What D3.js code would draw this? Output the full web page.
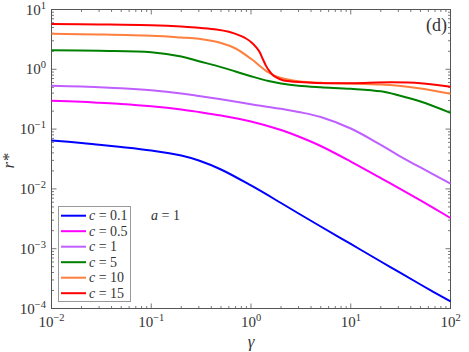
<!DOCTYPE html>
<html>
<head>
<meta charset="utf-8">
<script src="https://cdn.jsdelivr.net/npm/d3@7"></script>
<style>
  body { margin: 0; background: #fff; }
  svg text { font-family: "Liberation Serif", "DejaVu Serif", serif; fill: #333; }
</style>
</head>
<body>
<svg id="chart" width="469" height="352"></svg>
<script>
// gamma values and r* per curve
const gammaA = [0.01, 0.02, 0.03, 0.05, 0.1, 0.2, 0.3, 0.5, 1, 2, 3, 5, 10, 20, 30, 50, 100];
const rBlue =    [0.0645, 0.0586, 0.0546, 0.0502, 0.0439, 0.0362, 0.0298, 0.0211, 0.0114, 0.00581, 0.00388, 0.00235, 0.00120, 0.000611, 0.000412, 0.000252, 0.000131];
const rMagenta = [0.297, 0.286, 0.276, 0.263, 0.2405, 0.2127, 0.1932, 0.1688, 0.134, 0.0966, 0.0752, 0.0522, 0.0287, 0.0152, 0.0104, 0.0064, 0.00326];
const rPurple =  [0.530, 0.516, 0.502, 0.483, 0.445, 0.394, 0.358, 0.315, 0.260, 0.2185, 0.1932, 0.1594, 0.1023, 0.0545, 0.0365, 0.0228, 0.0123];

const gammaB = [0.01, 0.03, 0.1, 0.2, 0.3, 0.5, 0.7, 1, 1.5, 2, 3, 5, 10, 20, 30, 50, 100];
const rGreen =  [2.088, 2.039, 1.932, 1.637, 1.366, 1.088, 0.919, 0.767, 0.637, 0.579, 0.530, 0.500, 0.472, 0.428, 0.368, 0.289, 0.187];
const rOrange = [3.925, 3.82, 3.63, 3.40, 3.236, 2.754, 2.227, 1.498, 0.884, 0.715, 0.632, 0.595, 0.579, 0.557, 0.530, 0.477, 0.389];

const gammaC = [0.01, 0.03, 0.1, 0.2, 0.3, 0.45, 0.6, 0.8, 0.9, 1.0, 1.13, 1.22, 1.31, 1.42, 1.53, 1.65, 1.79, 2.08, 2.43, 3, 4.5, 10, 26, 50, 100];
const rRed =   [5.7, 5.62, 5.46, 5.2, 4.94, 4.65, 4.25, 3.58, 3.24, 2.86, 2.32, 1.94, 1.50, 1.13, 0.93, 0.80, 0.73, 0.657, 0.632, 0.612, 0.59, 0.585, 0.605, 0.585, 0.51];

const labels = ["0.1", "0.5", "1", "5", "10", "15"];
const colors = ["#0000ff", "#ff00ff", "#bf5fff", "#008000", "#ff7f3f", "#ff0000"];

const xTickPowers = [-2, -1, 0, 1, 2];
const yTickPowers = [-4, -3, -2, -1, 0, 1];

const series = [
    {g: gammaA, r: rBlue},
    {g: gammaA, r: rMagenta},
    {g: gammaA, r: rPurple},
    {g: gammaB, r: rGreen},
    {g: gammaB, r: rOrange},
    {g: gammaC, r: rRed},
];

const svg = d3.select("#chart");
const plotLeft = 51.5, plotRight = 450.5, plotTop = 9.5, plotBottom = 308.5;

const x = d3.scaleLog().domain([1e-2, 1e2]).range([plotLeft, plotRight]);
const y = d3.scaleLog().domain([1e-4, 1e1]).range([plotBottom, plotTop]);

// minor + major tick values
function logTicks(lo, hi) {
    const out = [];
    for (let p = lo; p < hi; p++) {
        for (let m = 1; m < 10; m++) out.push(m * Math.pow(10, p));
    }
    out.push(Math.pow(10, hi));
    return out;
}
const isMajor = v => Math.abs(Math.log10(v) - Math.round(Math.log10(v))) < 1e-9;
const xTicks = logTicks(-2, 2);
const yTicks = logTicks(-4, 1);

const axisColor = "#555";

// ticks on all four sides, pointing inward
function tickGroup(kind) {
    const g = svg.append("g");
    if (kind === "bottom" || kind === "top") {
        const yy = kind === "bottom" ? plotBottom : plotTop;
        const s = kind === "bottom" ? -1 : 1;
        g.selectAll("line").data(xTicks).enter().append("line")
            .attr("x1", d => x(d)).attr("x2", d => x(d))
            .attr("y1", yy).attr("y2", d => yy + s * (isMajor(d) ? 5 : 2.5))
            .attr("stroke", axisColor).attr("stroke-width", 0.8);
    } else {
        const xx = kind === "left" ? plotLeft : plotRight;
        const s = kind === "left" ? 1 : -1;
        g.selectAll("line").data(yTicks).enter().append("line")
            .attr("y1", d => y(d)).attr("y2", d => y(d))
            .attr("x1", xx).attr("x2", d => xx + s * (isMajor(d) ? 5 : 2.5))
            .attr("stroke", axisColor).attr("stroke-width", 0.8);
    }
}
["bottom", "top", "left", "right"].forEach(tickGroup);

svg.append("rect")
    .attr("x", plotLeft).attr("y", plotTop)
    .attr("width", plotRight - plotLeft).attr("height", plotBottom - plotTop)
    .attr("fill", "none").attr("stroke", axisColor).attr("stroke-width", 1);

// tick labels as 10^p
const xl = svg.append("g");
xTickPowers.forEach(p => {
    const t = xl.append("text")
        .attr("x", x(Math.pow(10, p)))
        .attr("y", 327)
        .attr("text-anchor", "middle")
        .attr("font-size", 15);
    t.append("tspan").text("10");
    t.append("tspan").attr("dy", -6).attr("font-size", 10.5).text(p < 0 ? "\u2212" + (-p) : p);
});
const yl = svg.append("g");
yTickPowers.forEach(p => {
    const t = yl.append("text")
        .attr("x", 46)
        .attr("y", y(Math.pow(10, p)) + 5)
        .attr("text-anchor", "end")
        .attr("font-size", 15);
    t.append("tspan").text("10");
    t.append("tspan").attr("dy", -6).attr("font-size", 10.5).text(p < 0 ? "\u2212" + (-p) : p);
});

// axis titles
svg.append("text")
    .attr("x", 251).attr("y", 347)
    .attr("text-anchor", "middle")
    .attr("font-size", 17).attr("font-style", "italic")
    .text("\u03b3");
svg.append("text")
    .attr("transform", "translate(14,161) rotate(-90)")
    .attr("text-anchor", "middle")
    .attr("font-size", 17).attr("font-style", "italic")
    .text("r*");

// curves
const line = d3.line()
    .x(d => x(d[0]))
    .y(d => y(d[1]))
    .curve(d3.curveCatmullRom.alpha(0.5));

svg.append("g").selectAll("path")
    .data(series)
    .enter().append("path")
    .attr("d", s => line(s.g.map((g, i) => [g, s.r[i]])))
    .attr("fill", "none")
    .attr("stroke", (s, i) => colors[i])
    .attr("stroke-width", 2);

// legend
const lg = svg.append("g");
lg.append("rect")
    .attr("x", 58.5).attr("y", 206.5).attr("width", 72).attr("height", 95)
    .attr("fill", "#fff").attr("stroke", "#999").attr("stroke-width", 1);
labels.forEach((lab, i) => {
    const yy = 215.7 + i * 15.5;
    lg.append("line")
        .attr("x1", 61).attr("x2", 86).attr("y1", yy).attr("y2", yy)
        .attr("stroke", colors[i]).attr("stroke-width", 2);
    const t = lg.append("text").attr("x", 89).attr("y", yy + 4.5).attr("font-size", 14);
    t.append("tspan").attr("font-style", "italic").text("c");
    t.append("tspan").text(" = " + lab);
});

const at = svg.append("text").attr("x", 151).attr("y", 220).attr("font-size", 14);
at.append("tspan").attr("font-style", "italic").text("a");
at.append("tspan").text(" = 1");

svg.append("text")
    .attr("x", 447).attr("y", 31)
    .attr("text-anchor", "end")
    .attr("font-size", 18)
    .text("(d)");
</script>
</body>
</html>
